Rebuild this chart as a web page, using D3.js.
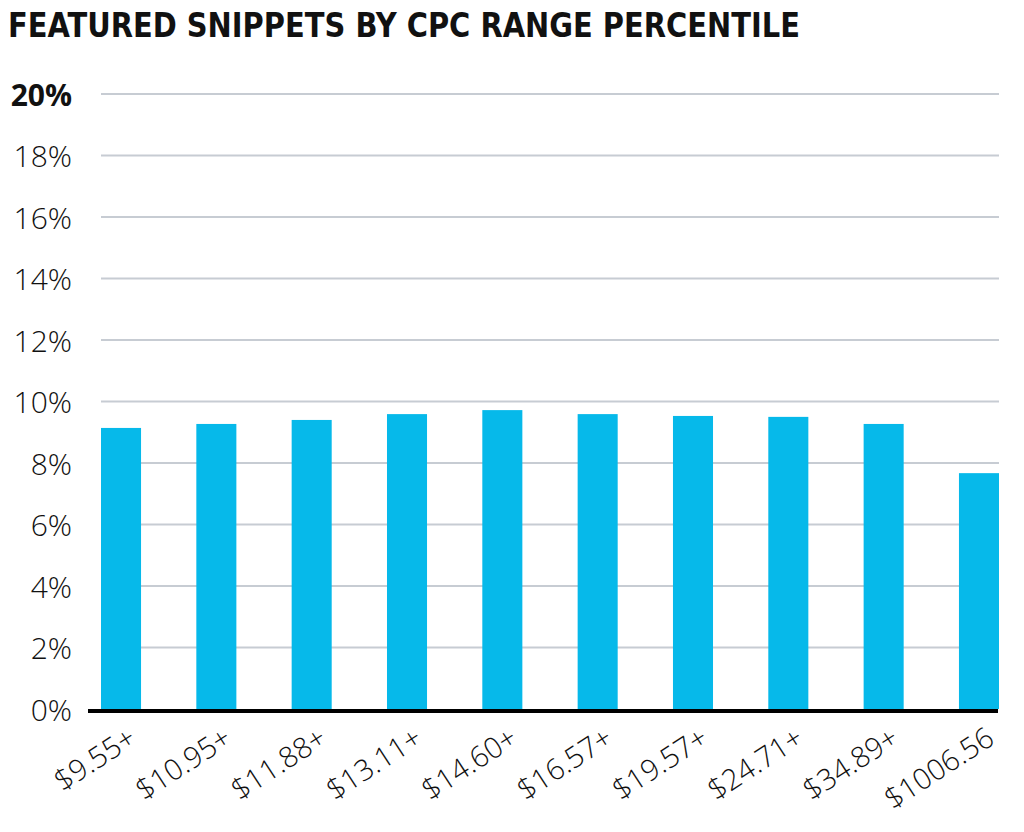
<!DOCTYPE html>
<html>
<head>
<meta charset="utf-8">
<script src="https://cdn.jsdelivr.net/npm/d3@7"></script>
<style>
  html, body { margin: 0; padding: 0; background: #fff; }
  svg { display: block; }
</style>
</head>
<body>
<svg id="chart" width="1024" height="832"></svg>
<script>
const categories = ["$9.55+", "$10.95+", "$11.88+", "$13.11+", "$14.60+", "$16.57+", "$19.57+", "$24.71+", "$34.89+", "$1006.56"];
const values = [9.14, 9.27, 9.40, 9.59, 9.72, 9.59, 9.53, 9.50, 9.27, 7.67];
const yTicks = [0, 2, 4, 6, 8, 10, 12, 14, 16, 18, 20];
const title = "FEATURED SNIPPETS BY CPC RANGE PERCENTILE";

const svg = d3.select("#chart");

const x = d3.scaleBand().domain(categories).range([101, 999]).paddingInner(0.58).paddingOuter(0);
const y = d3.scaleLinear().domain([0, 20]).range([709, 94]);

// Title
svg.append("text")
  .attr("x", 8).attr("y", 37)
  .attr("font-family", "'Liberation Sans Narrow', 'DejaVu Sans Condensed', sans-serif")
  .attr("font-weight", "bold")
  .attr("font-size", 34)
  .attr("fill", "#111")
  .attr("textLength", 792)
  .attr("lengthAdjust", "spacingAndGlyphs")
  .text(title);

// Gridlines
svg.append("g").selectAll("line").data(yTicks.filter(d => d > 0)).join("line")
  .attr("x1", 101).attr("x2", 999)
  .attr("y1", d => y(d)).attr("y2", d => y(d))
  .attr("stroke", "#c7ccd3").attr("stroke-width", 2);

// Y labels
svg.append("g").selectAll("text").data(yTicks).join("text")
  .attr("x", 72).attr("y", d => y(d) + 1)
  .attr("dy", "0.36em")
  .attr("text-anchor", "end")
  .attr("font-family", "'Open Sans', sans-serif")
  .attr("font-size", 30)
  .attr("font-weight", d => d === 20 ? "bold" : 300)
  .attr("fill", "#111")
  .text(d => d + "%");

// Bars
svg.append("g").selectAll("rect").data(values).join("rect")
  .attr("x", (d, i) => x(categories[i]))
  .attr("width", x.bandwidth())
  .attr("y", d => y(d))
  .attr("height", d => y(0) - y(d))
  .attr("fill", "#06b9ea");

// Axis line
svg.append("line")
  .attr("x1", 88).attr("x2", 998)
  .attr("y1", 711).attr("y2", 711)
  .attr("stroke", "#000").attr("stroke-width", 4);

// X labels
svg.append("g").selectAll("text").data(categories).join("text")
  .attr("transform", d => `translate(${x(d) + x.bandwidth() / 2 + 6}, 726) rotate(-33)`)
  .attr("text-anchor", "end")
  .attr("dy", "0.7em")
  .attr("font-family", "'Open Sans', sans-serif")
  .attr("font-size", 29)
  .attr("font-weight", 300)
  .attr("fill", "#111")
  .text(d => d);
</script>
</body>
</html>
